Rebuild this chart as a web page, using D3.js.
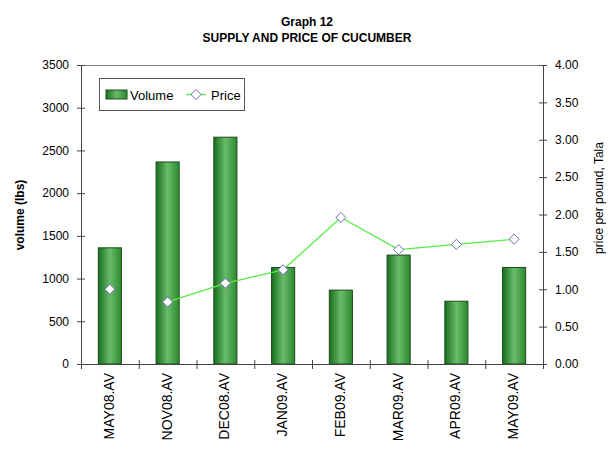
<!DOCTYPE html>
<html>
<head>
<meta charset="utf-8">
<script src="https://cdn.jsdelivr.net/npm/d3@7"></script>
<style>
  body { margin: 0; background: #fff; }
  svg { font-family: "Liberation Sans", Arial, sans-serif; }
</style>
</head>
<body>
<div id="chart"></div>
<script>
// data
const months = ["MAY08.AV", "NOV08.AV", "DEC08.AV", "JAN09.AV", "FEB09.AV", "MAR09.AV", "APR09.AV", "MAY09.AV"];
const volume = [1360, 2365, 2655, 1130, 865, 1275, 735, 1130];
const price = [1.00, 0.83, 1.08, 1.26, 1.96, 1.53, 1.60, 1.67];
const volTicks = [0, 500, 1000, 1500, 2000, 2500, 3000, 3500];
const priceTicks = [0, 0.5, 1, 1.5, 2, 2.5, 3, 3.5, 4];

const width = 613, height = 460;
const pLeft = 81, pRight = 543, pTop = 65, pBottom = 364;

const svg = d3.select("#chart").append("svg")
    .attr("width", width)
    .attr("height", height);

// bar gradient, dark edges and light middle
const grad = svg.append("defs").append("linearGradient")
    .attr("id", "barGrad")
    .attr("x1", "0%").attr("x2", "100%").attr("y1", "0%").attr("y2", "0%");
grad.append("stop").attr("offset", "0%").attr("stop-color", "#17701b");
grad.append("stop").attr("offset", "50%").attr("stop-color", "#6abb6a");
grad.append("stop").attr("offset", "100%").attr("stop-color", "#2a8a2e");

const x = d3.scaleBand().domain(months).range([pLeft, pRight]).paddingInner(0.6).paddingOuter(0.3);
const xEdge = d3.scaleLinear().domain([0, months.length]).range([pLeft, pRight]);
const yVol = d3.scaleLinear().domain([0, 3500]).range([pBottom, pTop]);
const yPrice = d3.scaleLinear().domain([0, 4]).range([pBottom, pTop]);

// titles
svg.append("text").attr("x", 307).attr("y", 26).attr("text-anchor", "middle")
    .attr("font-weight", "bold").attr("font-size", 12).text("Graph 12");
svg.append("text").attr("x", 307).attr("y", 42).attr("text-anchor", "middle")
    .attr("font-weight", "bold").attr("font-size", 12).text("SUPPLY AND PRICE OF CUCUMBER");

// top border of the plot
svg.append("line").attr("x1", pLeft).attr("x2", pRight).attr("y1", pTop + 0.5).attr("y2", pTop + 0.5)
    .attr("stroke", "#808080");

// bars
svg.selectAll("rect.bar")
  .data(volume)
  .enter().append("rect")
    .attr("class", "bar")
    .attr("x", (d, i) => x(months[i]))
    .attr("y", d => yVol(d))
    .attr("width", x.bandwidth())
    .attr("height", d => pBottom - yVol(d))
    .attr("fill", "url(#barGrad)")
    .attr("stroke", "#1f4a1f")
    .attr("stroke-width", 1);

// side axes
const axL = svg.append("g").attr("transform", "translate(" + pLeft + ",0)")
    .call(d3.axisLeft(yVol).tickValues(volTicks).tickSize(4).tickPadding(8).tickFormat(d3.format("d")));
const axR = svg.append("g").attr("transform", "translate(" + pRight + ",0)")
    .call(d3.axisRight(yPrice).tickValues(priceTicks).tickSize(4).tickPadding(8).tickFormat(d3.format(".2f")));
[axL, axR].forEach(a => {
  a.select(".domain").attr("stroke", "#444");
  a.selectAll(".tick line").attr("stroke", "#444").attr("x1", -4).attr("x2", 4);
  a.selectAll(".tick text").attr("font-size", 12).attr("fill", "#000")
      .attr("font-family", "Liberation Sans, Arial, sans-serif");
});

// bottom axis: ticks at category boundaries, crossing the line
svg.append("line").attr("x1", pLeft).attr("x2", pRight).attr("y1", pBottom + 0.5).attr("y2", pBottom + 0.5)
    .attr("stroke", "#444");
svg.selectAll("line.xtick")
  .data(d3.range(months.length + 1))
  .enter().append("line")
    .attr("class", "xtick")
    .attr("x1", d => xEdge(d) + 0.5).attr("x2", d => xEdge(d) + 0.5)
    .attr("y1", pBottom - 4).attr("y2", pBottom + 5)
    .attr("stroke", "#444");
svg.selectAll("text.xlab")
  .data(months)
  .enter().append("text")
    .attr("class", "xlab")
    .attr("transform", d => "translate(" + (x(d) + x.bandwidth() / 2 + 4) + "," + (pBottom + 9) + ") rotate(-90)")
    .attr("text-anchor", "end")
    .attr("font-size", 14)
    .text(d => d);

// price line (no segment between the first two points in the original)
const line = d3.line()
    .x((d, i) => x(months[i + 1]) + x.bandwidth() / 2)
    .y(d => yPrice(d));
svg.append("path")
    .datum(price.slice(1))
    .attr("d", line)
    .attr("fill", "none")
    .attr("stroke", "#55ee44")
    .attr("stroke-width", 1.3);

const diamond = d3.symbol().type(d3.symbolDiamond2).size(65);
svg.selectAll("path.pt")
  .data(price)
  .enter().append("path")
    .attr("class", "pt")
    .attr("d", diamond)
    .attr("transform", (d, i) => "translate(" + (x(months[i]) + x.bandwidth() / 2) + "," + yPrice(d) + ")")
    .attr("fill", "#fff")
    .attr("stroke", "#6a6ab8")
    .attr("stroke-width", 1);

// axis titles
svg.append("text")
    .attr("transform", "translate(24,215) rotate(-90)")
    .attr("text-anchor", "middle").attr("font-weight", "bold").attr("font-size", 12)
    .text("volume (lbs)");
svg.append("text")
    .attr("transform", "translate(603,198) rotate(-90)")
    .attr("text-anchor", "middle").attr("font-size", 12)
    .text("price per pound, Tala");

// legend
const lg = svg.append("g").attr("transform", "translate(99,78)");
lg.append("rect").attr("x", 0.5).attr("y", 0.5).attr("width", 145).attr("height", 32)
    .attr("fill", "#fff").attr("stroke", "#555");
lg.append("rect").attr("x", 7).attr("y", 12).attr("width", 21).attr("height", 9)
    .attr("fill", "url(#barGrad)").attr("stroke", "#1f4a1f");
lg.append("text").attr("x", 31).attr("y", 21.5).attr("font-size", 13).text("Volume");
lg.append("line").attr("x1", 87).attr("x2", 107).attr("y1", 16.5).attr("y2", 16.5)
    .attr("stroke", "#55ee44").attr("stroke-width", 1.3);
lg.append("path").attr("d", diamond).attr("transform", "translate(97,16.5)")
    .attr("fill", "#fff").attr("stroke", "#6a6ab8");
lg.append("text").attr("x", 112).attr("y", 21.5).attr("font-size", 13).text("Price");
</script>
</body>
</html>
